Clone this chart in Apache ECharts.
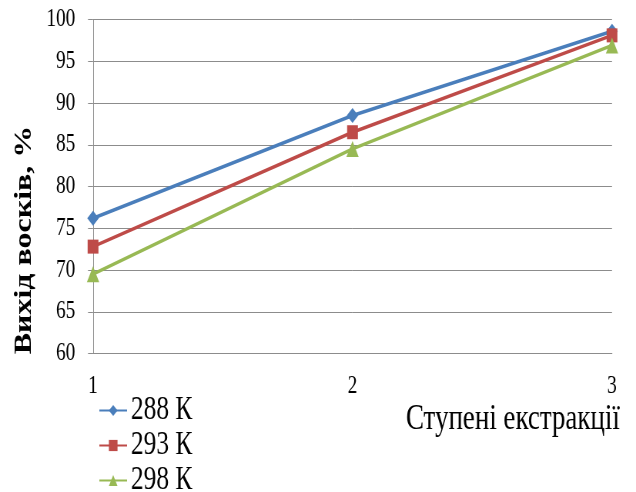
<!DOCTYPE html>
<html>
<head>
<meta charset="utf-8">
<script src="https://cdn.jsdelivr.net/npm/echarts@6/dist/echarts.min.js"></script>
<style>
  html, body { margin: 0; padding: 0; background: #ffffff; overflow: hidden; }
  #wrap { width: 636px; height: 492px; overflow: hidden; }
  /* the chart is laid out wide and then squeezed horizontally, giving the narrow serif look */
  #chart { width: 826px; height: 492px; transform: scaleX(0.77); transform-origin: 0 0; }
</style>
</head>
<body>
<div id="wrap"><div id="chart"></div></div>
<script>
// extraction stages
const stages = ['1', '2', '3'];
// wax yield (%) at each stage, per extraction temperature
const yield288 = [76.2, 88.5, 98.6];
const yield293 = [72.8, 86.5, 98.1];
const yield298 = [69.5, 84.5, 96.9];
const seriesNames = ['288 К', '293 К', '298 К'];
const yTicks = { min: 60, max: 100, step: 5 };

const serif = '"Liberation Serif", "Times New Roman", serif';
const gridColor = '#8c8c8c';

const chart = echarts.init(document.getElementById('chart'), null, { renderer: 'canvas' });

function lineSeries(name, data, color, symbol, size) {
  return {
    name: name,
    type: 'line',
    data: data,
    symbol: symbol,
    symbolSize: size,
    showAllSymbol: true,
    lineStyle: { color: color, width: 3.5 },
    itemStyle: { color: color, borderWidth: 0 },
    emphasis: { disabled: true },
    animation: false
  };
}

chart.setOption({
  backgroundColor: '#ffffff',
  animation: false,
  grid: { left: 120.8, right: 31.2, top: 19.5, bottom: 138.5, containLabel: false },
  xAxis: {
    type: 'category',
    data: stages,
    boundaryGap: false,
    axisLine: { show: true, lineStyle: { color: gridColor, width: 1 } },
    axisTick: { show: false },
    splitLine: { show: false },
    axisLabel: { color: '#000', fontFamily: serif, fontSize: 25, margin: 20 }
  },
  yAxis: {
    type: 'value',
    min: yTicks.min,
    max: yTicks.max,
    interval: yTicks.step,
    axisLine: { show: true, lineStyle: { color: gridColor, width: 1 } },
    axisTick: { show: true, length: 6.5, lineStyle: { color: gridColor, width: 1 } },
    splitLine: { show: true, lineStyle: { color: gridColor, width: 1 } },
    axisLabel: { color: '#000', fontFamily: serif, fontSize: 25, margin: 23 }
  },
  legend: {
    orient: 'vertical',
    left: 123,
    top: 391,
    height: 140,
    padding: [3, 5, 3, 5],
    itemWidth: 36,
    itemHeight: 14,
    itemGap: 2,
    data: seriesNames,
    textStyle: { color: '#000', fontFamily: serif, fontSize: 33 }
  },
  graphic: [
    {
      type: 'text',
      x: 805,
      y: 420,
      style: {
        text: 'Ступені екстракції',
        fill: '#000',
        font: '35px ' + serif,
        textAlign: 'right',
        textVerticalAlign: 'middle'
      }
    },
    {
      type: 'text',
      x: 32,
      y: 240,
      rotation: Math.PI / 2,
      style: {
        text: 'Вихід восків, %',
        fill: '#000',
        font: 'bold 32px ' + serif,
        textAlign: 'center',
        textVerticalAlign: 'middle'
      }
    }
  ],
  series: [
    lineSeries(seriesNames[0], yield288, '#4a7ebb', 'diamond', 15),
    lineSeries(seriesNames[1], yield293, '#be4b48', 'rect', 14),
    lineSeries(seriesNames[2], yield298, '#98b954', 'triangle', 16)
  ]
});
</script>
</body>
</html>
